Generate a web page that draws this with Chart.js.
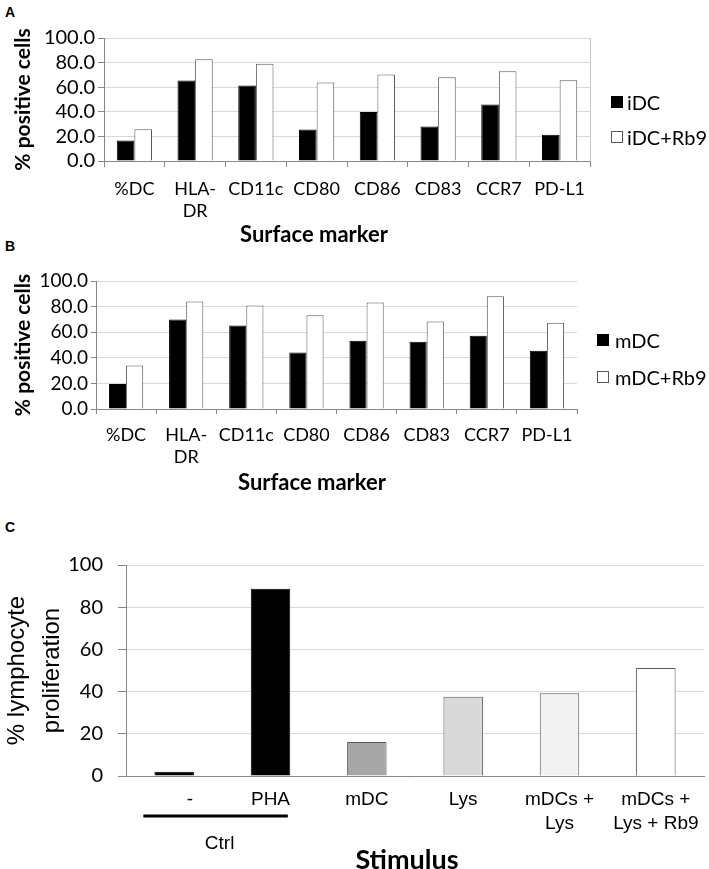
<!DOCTYPE html>
<html>
<head>
<meta charset="utf-8">
<script src="https://cdn.jsdelivr.net/npm/chart.js@4"></script>
<style>
  body { margin: 0; background: #fff; width: 709px; height: 869px; position: relative; overflow: hidden; font-family: Lato, sans-serif; }
  canvas { position: absolute; left: 0; }
  .abs { position: absolute; white-space: nowrap; color: #000; }
  .panel { font-family: 'Liberation Sans', Arial, sans-serif; font-weight: bold; font-size: 14px; left: 5px; line-height: 14px; }
  .xtitle { font-weight: bold; transform: translate(-50%, -50%); line-height: 1; }
  .legend { font-size: 20px; display: flex; align-items: center; height: 24px; }
  .sw { width: 12px; height: 12px; box-sizing: border-box; margin-right: 4px; }
</style>
</head>
<body>
<div class="abs panel" style="top:5px">A</div>
<div class="abs panel" style="top:239px">B</div>
<div class="abs panel" style="top:520px">C</div>

<canvas id="chartA" width="709" height="225" style="top:0"></canvas>
<canvas id="chartB" width="709" height="225" style="top:250px"></canvas>
<canvas id="chartC" width="709" height="329" style="top:540px"></canvas>

<div class="abs xtitle" style="left:314px; top:234px; font-size:22px">Surface marker</div>
<div class="abs xtitle" style="left:312px; top:482px; font-size:22px">Surface marker</div>
<div class="abs xtitle" style="left:407px; top:858px; font-size:27px">Stimulus</div>

<div class="abs legend" style="left:611px; top:90px"><div class="sw" style="background:#000"></div>iDC</div>
<div class="abs legend" style="left:611px; top:125px"><div class="sw" style="background:#fff;border:1px solid #595959"></div>iDC+Rb9</div>
<div class="abs legend" style="left:597px; top:328px"><div class="sw" style="background:#000;margin-right:6px"></div>mDC</div>
<div class="abs legend" style="left:597px; top:365px"><div class="sw" style="background:#fff;border:1px solid #595959;margin-right:6px"></div>mDC+Rb9</div>

<script>
// Panel A / B: surface markers
const markers = ['%DC', ['HLA-', 'DR'], 'CD11c', 'CD80', 'CD86', 'CD83', 'CCR7', 'PD-L1'];
const iDC = [16.6, 65.4, 61.3, 25.6, 39.8, 28.1, 46.0, 21.3];
const iDCRb9 = [25.9, 82.8, 79.0, 63.8, 70.3, 68.1, 73.0, 65.7];
const mDC = [19.6, 69.9, 65.2, 44.2, 53.4, 52.6, 57.3, 45.5];
const mDCRb9 = [34.0, 84.0, 80.9, 73.3, 83.2, 68.3, 88.0, 67.3];
const percentTicks = [0, 20, 40, 60, 80, 100];

// Panel C: lymphocyte proliferation
const stimuli = ['      -', 'PHA', 'mDC', 'Lys', ['mDCs +', 'Lys'], ['mDCs +', 'Lys + Rb9']];
const proliferation = [2.0, 88.7, 16.1, 37.6, 39.2, 51.2];
const stimulusColors = ['#000000', '#000000', '#a6a6a6', '#d9d9d9', '#f2f2f2', '#ffffff'];

Chart.defaults.devicePixelRatio = 1;
Chart.defaults.animation = false;
Chart.defaults.color = '#000';

const rightBorder = {
    id: 'rightBorder',
    afterDraw(chart) {
        const a = chart.chartArea;
        const ctx = chart.ctx;
        ctx.save();
        ctx.strokeStyle = '#c8c8c8';
        ctx.lineWidth = 1;
        ctx.beginPath();
        ctx.moveTo(a.right + 0.5, a.top);
        ctx.lineTo(a.right + 0.5, a.bottom);
        ctx.stroke();
        ctx.restore();
    }
};

function setTicks(s) {
    s.ticks = percentTicks.map(v => ({ value: v }));
}

function markerChart(id, names, a, b, box, extraPlugins) {
    return new Chart(document.getElementById(id), {
        type: 'bar',
        data: {
            labels: markers,
            datasets: [
                { label: names[0], data: a, backgroundColor: '#000', borderColor: '#000', borderWidth: 1 },
                { label: names[1], data: b, backgroundColor: '#fff', borderColor: '#595959', borderWidth: 1 }
            ]
        },
        options: {
            responsive: false,
            layout: { padding: { top: box.top, right: box.right, left: 0, bottom: 0 } },
            plugins: { legend: { display: false }, tooltip: { enabled: false } },
            datasets: { bar: { categoryPercentage: box.cat, barPercentage: 1 } },
            scales: {
                x: {
                    grid: { display: true, drawOnChartArea: false, offset: true, tickLength: box.tl, tickColor: '#868686' },
                    border: { color: '#868686' },
                    ticks: { font: { family: 'Lato', size: 18, lineHeight: 1.22 }, maxRotation: 0, minRotation: 0, autoSkip: false, padding: box.xpad },
                    afterFit(s) { s.height = box.xh; }
                },
                y: {
                    min: 0, max: 100,
                    grid: { color: '#d9d9d9', tickLength: box.tl, tickColor: '#868686' },
                    border: { color: '#868686' },
                    afterBuildTicks: setTicks,
                    ticks: { autoSkip: false, padding: 3, font: { family: 'Lato', size: box.yfont, lineHeight: 1 }, callback: v => v.toFixed(1) },
                    title: { display: true, text: '% positive cells', padding: { top: 11, bottom: 0 }, font: { family: 'Lato', size: 21, weight: 'bold', lineHeight: 1.2 } },
                    afterFit(s) { s.width = box.yw; }
                }
            }
        },
        plugins: extraPlugins
    });
}

markerChart('chartA', ['iDC', 'iDC+Rb9'], iDC, iDCRb9,
    { top: 38, right: 119, yw: 104, xh: 64, tl: 6, xpad: 11, cat: 0.58, yfont: 20 }, [rightBorder]);
markerChart('chartB', ['mDC', 'mDC+Rb9'], mDC, mDCRb9,
    { top: 31, right: 132, yw: 96, xh: 66, tl: 5, xpad: 10, cat: 0.57, yfont: 19 }, []);

// Ctrl bracket under the first two stimulus labels
const ctrlBracket = {
    id: 'ctrlBracket',
    afterDraw(chart) {
        const x = chart.scales.x;
        const ctx = chart.ctx;
        const step = x.getPixelForValue(1) - x.getPixelForValue(0);
        const x0 = x.getPixelForValue(0) - step * 0.32;
        const x1 = x.getPixelForValue(1) + step * 0.18;
        const y = chart.chartArea.bottom + 40;
        ctx.save();
        ctx.fillStyle = '#000';
        ctx.fillRect(x0, y - 1.5, x1 - x0, 3);
        ctx.font = '19px "Liberation Sans", Arial, sans-serif';
        ctx.textAlign = 'center';
        ctx.textBaseline = 'middle';
        ctx.fillText('Ctrl', (x0 + x1) / 2 + 4, y + 28);
        ctx.restore();
    }
};

new Chart(document.getElementById('chartC'), {
    type: 'bar',
    data: {
        labels: stimuli,
        datasets: [{
            label: '% lymphocyte proliferation',
            data: proliferation,
            backgroundColor: stimulusColors,
            borderColor: ['#000', '#000', '#595959', '#595959', '#595959', '#595959'],
            borderWidth: 1
        }]
    },
    options: {
        responsive: false,
        layout: { padding: { top: 23, right: 5, left: 0, bottom: 0 } },
        plugins: { legend: { display: false }, tooltip: { enabled: false } },
        datasets: { bar: { categoryPercentage: 1, barPercentage: 0.41 } },
        scales: {
            x: {
                grid: { display: false },
                border: { color: '#868686' },
                ticks: { font: { family: 'Liberation Sans', size: 19, lineHeight: 1.26 }, maxRotation: 0, minRotation: 0, autoSkip: false, padding: 4 },
                afterFit(s) { s.height = 93; }
            },
            y: {
                min: 0, max: 100,
                grid: { color: '#d9d9d9', tickLength: 8, tickColor: '#868686' },
                border: { color: '#868686' },
                ticks: { stepSize: 20, autoSkip: false, padding: 15, font: { family: 'Lato', size: 20, lineHeight: 1 } },
                title: { display: true, text: ['% lymphocyte', 'proliferation'], padding: { top: 0, bottom: 0 }, font: { family: 'Liberation Sans', size: 24, lineHeight: 1.46 } },
                afterFit(s) { s.width = 126; }
            }
        }
    },
    plugins: [ctrlBracket]
});
</script>
</body>
</html>
